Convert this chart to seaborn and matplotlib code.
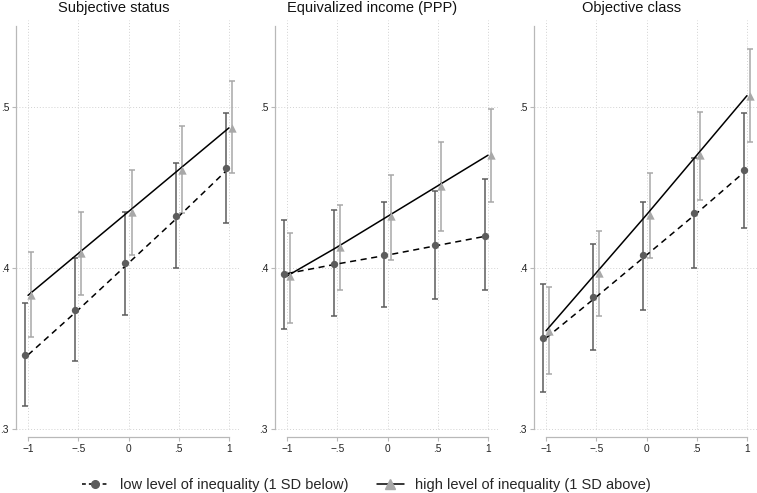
import numpy as np
import pandas as pd
import matplotlib
matplotlib.use("Agg")
import matplotlib.pyplot as plt
from matplotlib.lines import Line2D
import seaborn as sns

panels = ["Subjective status", "Equivalized income (PPP)", "Objective class"]
x_vals = [-1, -0.5, 0, 0.5, 1]

low_mean = [[0.346, 0.374, 0.403, 0.432, 0.462],
            [0.3965, 0.4025, 0.408, 0.414, 0.420],
            [0.3565, 0.382, 0.408, 0.434, 0.461]]
low_lo = [[0.314, 0.342, 0.371, 0.400, 0.428],
          [0.362, 0.370, 0.376, 0.381, 0.386],
          [0.323, 0.349, 0.374, 0.400, 0.425]]
low_hi = [[0.378, 0.406, 0.435, 0.465, 0.496],
          [0.430, 0.436, 0.441, 0.448, 0.455],
          [0.390, 0.415, 0.441, 0.468, 0.496]]

high_mean = [[0.383, 0.409, 0.435, 0.461, 0.487],
             [0.395, 0.413, 0.432, 0.451, 0.470],
             [0.361, 0.397, 0.433, 0.470, 0.507]]
high_lo = [[0.357, 0.383, 0.408, 0.434, 0.459],
           [0.366, 0.386, 0.405, 0.423, 0.441],
           [0.334, 0.370, 0.406, 0.442, 0.478]]
high_hi = [[0.410, 0.435, 0.461, 0.488, 0.516],
           [0.422, 0.439, 0.458, 0.478, 0.499],
           [0.388, 0.423, 0.459, 0.497, 0.536]]

group_labels = ["low level of inequality (1 SD below)",
                "high level of inequality (1 SD above)"]
x_ticks = [-1, -0.5, 0, 0.5, 1]
x_ticklabels = ["\u22121", "\u2212.5", "0", ".5", "1"]
y_ticks = [0.3, 0.4, 0.5]
y_ticklabels = [".3", ".4", ".5"]

rows = []
for p, name in enumerate(panels):
    for i, x in enumerate(x_vals):
        rows.append(dict(panel=name, group="low", x=x, y=low_mean[p][i],
                         lo=low_lo[p][i], hi=low_hi[p][i]))
        rows.append(dict(panel=name, group="high", x=x, y=high_mean[p][i],
                         lo=high_lo[p][i], hi=high_hi[p][i]))
df = pd.DataFrame(rows)

sns.set_theme(style="white")
plt.rcParams['font.family'] = ['Liberation Sans', 'DejaVu Sans']

fig = plt.figure(figsize=(7.57, 4.93), dpi=100)
W, H = 757, 493
lefts = [16, 275, 534]
ax_w = 223
bottom_px, top_px = 437, 20
ax_h = bottom_px - top_px

low_col = "#5c5c5c"
high_col = "#a8a8a8"
off = 0.03
spine_col = "#b8b8b8"
grid_col = "#d2d2d2"
ymin, ymax = 0.295, 0.554

for p, name in enumerate(panels):
    ax = fig.add_axes([lefts[p] / W, 1 - bottom_px / H, ax_w / W, ax_h / H])
    d = df[df.panel == name]
    dl = d[d.group == "low"]
    dh = d[d.group == "high"]

    ax.set_xlim(-1.12, 1.10)
    ax.set_ylim(ymin, ymax)

    # grid
    ax.vlines(x_ticks, 0.3, ymax, color=grid_col, lw=0.7, ls=(0, (1, 2)), zorder=0)
    ax.hlines(y_ticks, -1.12, 1.10, color=grid_col, lw=0.7, ls=(0, (1, 2)), zorder=0)

    # error bars
    ax.errorbar(dl.x - off, dl.y, yerr=[dl.y - dl.lo, dl.hi - dl.y], fmt="none",
                ecolor=low_col, elinewidth=1.1, capsize=2.4, capthick=1.1, zorder=2)
    ax.errorbar(dh.x + off, dh.y, yerr=[dh.y - dh.lo, dh.hi - dh.y], fmt="none",
                ecolor=high_col, elinewidth=1.1, capsize=2.4, capthick=1.1, zorder=2)

    # lines
    sns.lineplot(data=dl, x="x", y="y", ax=ax, color="black", lw=1.1,
                 linestyle=(0, (4, 3)), legend=False, zorder=3)
    sns.lineplot(data=dh, x="x", y="y", ax=ax, color="black", lw=1.1,
                 legend=False, zorder=3)

    # markers
    sns.scatterplot(x=dl.x - off, y=dl.y, ax=ax, color=low_col, marker="o", s=28,
                    edgecolor=low_col, linewidth=0, legend=False, zorder=4)
    sns.scatterplot(x=dh.x + off, y=dh.y, ax=ax, color=high_col, marker="^", s=36,
                    edgecolor=high_col, linewidth=0, legend=False, zorder=4)

    ax.set_xticks(x_ticks)
    ax.set_xticklabels(x_ticklabels)
    ax.set_yticks(y_ticks)
    ax.set_yticklabels(y_ticklabels)
    ax.set_xlabel("")
    ax.set_ylabel("")
    ax.tick_params(axis="both", labelsize=7.3, length=3, width=0.8, color=spine_col,
                   pad=2, labelcolor="#222222")
    ax.tick_params(axis="y", direction="out", left=True)
    ax.tick_params(axis="x", direction="out", bottom=True)

    for s in ["top", "right"]:
        ax.spines[s].set_visible(False)
    ax.spines["left"].set_color(spine_col)
    ax.spines["bottom"].set_color(spine_col)
    ax.spines["left"].set_linewidth(0.9)
    ax.spines["bottom"].set_linewidth(0.9)
    ax.spines["left"].set_bounds(0.3, 0.55)
    ax.spines["bottom"].set_bounds(-1, 1)

    ax.text(0.437, 1.0 + 8 / ax_h, name, transform=ax.transAxes,
            ha="center", va="baseline", fontsize=10.5, color="#111111")

handles = [
    Line2D([], [], color="black", lw=1.1, ls=(0, (2.5, 2)), marker="o",
           markersize=5.5, markerfacecolor=low_col, markeredgecolor=low_col),
    Line2D([], [], color="black", lw=1.1, marker="^",
           markersize=6.5, markerfacecolor=high_col, markeredgecolor=high_col),
]
fig.legend(handles, group_labels, loc="center", bbox_to_anchor=(0.484, 1 - 485 / H),
           ncol=2, frameon=False, fontsize=10.5, handlelength=1.8,
           columnspacing=2.0, handletextpad=0.8, borderpad=0, borderaxespad=0)

fig.savefig("out.png", dpi=100)
